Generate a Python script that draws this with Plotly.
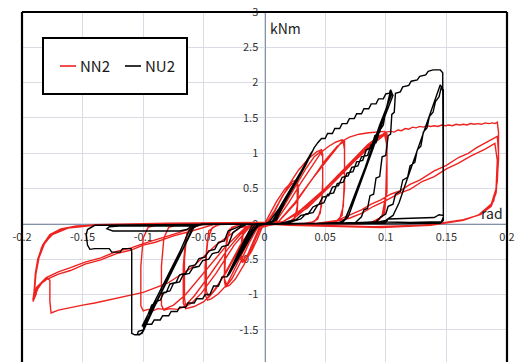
import plotly.graph_objects as go

# ---------------------------------------------------------------------------
# Moment-rotation hysteresis of two joints (rotation in rad, moment in kNm)
# Each list is one stage of the loading history, in the order it was applied.
# ---------------------------------------------------------------------------

# NU2 -------------------------------------------------------------------------
NU2_SMALL = [
    (0.000, 0.00), (0.004, 0.03), (0.012, 0.22), (0.020, 0.45), (0.030, 0.74), (0.039, 1.02),
    (0.037, 0.96), (0.027, 0.62), (0.016, 0.30), (0.008, 0.05), (0.002, 0.00), (-0.006, -0.01),
    (-0.012, -0.15), (-0.020, -0.40), (-0.031, -0.75), (-0.029, -0.71), (-0.020, -0.45),
    (-0.012, -0.20), (-0.006, -0.03), (0.002, 0.00), (0.006, 0.03), (0.015, 0.28), (0.024, 0.55),
    (0.032, 0.78), (0.038, 0.98), (0.036, 0.93), (0.026, 0.60), (0.018, 0.35), (0.010, 0.06),
    (0.003, 0.00), (-0.008, -0.01), (-0.014, -0.18), (-0.022, -0.45), (-0.030, -0.72),
    (-0.028, -0.68), (-0.018, -0.38), (-0.010, -0.12), (-0.004, -0.01), (0.004, 0.00),
    (0.008, 0.04), (0.017, 0.30), (0.026, 0.58), (0.034, 0.83), (0.039, 1.00),
]
NU2_ENV1 = [
    (0.041, 1.08), (0.044, 1.15), (0.047, 1.21), (0.050, 1.21), (0.052, 1.28), (0.056, 1.28),
    (0.058, 1.35), (0.062, 1.35), (0.064, 1.42), (0.068, 1.42), (0.070, 1.49), (0.074, 1.49),
    (0.076, 1.56), (0.080, 1.56), (0.082, 1.63), (0.086, 1.63), (0.088, 1.70), (0.092, 1.70),
    (0.094, 1.77), (0.098, 1.77), (0.100, 1.84), (0.103, 1.85), (0.104, 1.90), (0.105, 1.86),
    (0.100, 1.60), (0.090, 1.10), (0.080, 0.62), (0.070, 0.20), (0.066, 0.05), (0.060, 0.01),
    (0.040, 0.00), (0.000, 0.00), (-0.010, -0.01), (-0.020, -0.35), (-0.031, -0.75),
    (-0.035, -0.75), (-0.038, -0.88), (-0.042, -0.88), (-0.045, -1.00), (-0.049, -1.00),
    (-0.051, -1.06), (-0.056, -1.06), (-0.058, -1.12), (-0.063, -1.12), (-0.065, -1.18),
    (-0.070, -1.18), (-0.072, -1.24), (-0.077, -1.24), (-0.079, -1.30), (-0.084, -1.30),
    (-0.086, -1.36), (-0.091, -1.36), (-0.093, -1.42), (-0.098, -1.42), (-0.100, -1.50),
    (-0.104, -1.52), (-0.105, -1.57), (-0.101, -1.55), (-0.099, -1.45), (-0.080, -0.80),
    (-0.065, -0.28), (-0.058, -0.04), (-0.052, 0.00), (0.000, 0.00), (0.012, 0.00),
]
NU2_RELOAD_A = [
    (0.020, 0.04), (0.026, 0.06), (0.030, 0.12), (0.036, 0.14), (0.040, 0.24), (0.045, 0.28),
    (0.048, 0.38), (0.053, 0.40), (0.056, 0.52), (0.061, 0.54), (0.064, 0.66), (0.069, 0.68),
    (0.072, 0.80), (0.077, 0.82), (0.080, 0.95), (0.085, 0.97), (0.088, 1.12), (0.092, 1.15),
    (0.095, 1.32), (0.098, 1.40), (0.100, 1.60), (0.103, 1.80), (0.104, 1.89), (0.105, 1.84),
    (0.095, 1.40), (0.083, 0.80), (0.072, 0.30), (0.067, 0.08), (0.062, 0.01), (0.030, 0.00),
    (0.000, 0.00), (-0.015, -0.01), (-0.020, -0.05), (-0.026, -0.12), (-0.030, -0.30),
    (-0.035, -0.32), (-0.038, -0.40), (-0.043, -0.42), (-0.046, -0.50), (-0.051, -0.52),
    (-0.054, -0.60), (-0.059, -0.62), (-0.062, -0.70), (-0.067, -0.72), (-0.070, -0.82),
    (-0.075, -0.84), (-0.078, -0.95), (-0.083, -0.97), (-0.086, -1.08), (-0.090, -1.10),
    (-0.093, -1.22), (-0.096, -1.28), (-0.099, -1.40), (-0.100, -1.47), (-0.098, -1.40),
    (-0.082, -0.85), (-0.068, -0.38), (-0.060, -0.08), (-0.055, -0.01), (-0.040, 0.00),
    (0.000, 0.00), (0.016, 0.00),
]
NU2_RELOAD_B = [
    (0.024, 0.04), (0.030, 0.07), (0.034, 0.14), (0.040, 0.16), (0.044, 0.27), (0.049, 0.30),
    (0.052, 0.42), (0.057, 0.44), (0.060, 0.57), (0.065, 0.59), (0.068, 0.72), (0.073, 0.74),
    (0.076, 0.88), (0.081, 0.90), (0.084, 1.05), (0.088, 1.08), (0.091, 1.25), (0.095, 1.30),
    (0.098, 1.50), (0.101, 1.65), (0.103, 1.82), (0.104, 1.88), (0.106, 1.82), (0.097, 1.42),
    (0.085, 0.85), (0.074, 0.32), (0.069, 0.10), (0.064, 0.02), (0.030, 0.00), (0.000, 0.00),
    (-0.018, -0.01), (-0.024, -0.06), (-0.030, -0.10), (-0.033, -0.24), (-0.038, -0.26),
    (-0.041, -0.36), (-0.046, -0.38), (-0.049, -0.47), (-0.054, -0.49), (-0.057, -0.58),
    (-0.062, -0.60), (-0.065, -0.70), (-0.070, -0.72), (-0.073, -0.83), (-0.078, -0.85),
    (-0.081, -0.97), (-0.086, -0.99), (-0.089, -1.12), (-0.093, -1.15), (-0.096, -1.28),
    (-0.099, -1.38), (-0.101, -1.45), (-0.099, -1.38), (-0.084, -0.88), (-0.070, -0.40),
    (-0.062, -0.09), (-0.057, -0.01), (-0.040, 0.00), (0.000, 0.00), (0.050, 0.00),
]
NU2_ENV2 = [
    (0.060, 0.01), (0.075, 0.02), (0.080, 0.10), (0.082, 0.20), (0.085, 0.22), (0.087, 0.40),
    (0.090, 0.42), (0.092, 0.65), (0.095, 0.67), (0.097, 0.95), (0.100, 0.97), (0.102, 1.25),
    (0.104, 1.27), (0.105, 1.55), (0.107, 1.58), (0.108, 1.85), (0.112, 1.87), (0.114, 1.94),
    (0.119, 1.96), (0.121, 2.02), (0.126, 2.04), (0.128, 2.09), (0.133, 2.11), (0.135, 2.16),
    (0.139, 2.18), (0.145, 2.18), (0.147, 2.14), (0.147, 2.02), (0.1475, 1.00), (0.1475, 0.12),
    (0.144, 0.13), (0.140, 0.09), (0.102, 0.07), (0.100, 0.02), (0.060, 0.01), (0.000, 0.00),
    (-0.100, -0.01), (-0.140, -0.02), (-0.146, -0.08), (-0.147, -0.15), (-0.146, -0.30),
    (-0.144, -0.36), (-0.140, -0.35), (-0.128, -0.35), (-0.126, -0.40), (-0.119, -0.40),
    (-0.117, -0.35), (-0.110, -0.35), (-0.1095, -0.40), (-0.1095, -1.55), (-0.107, -1.57),
    (-0.103, -1.57), (-0.100, -1.52), (-0.098, -1.44), (-0.080, -0.78), (-0.065, -0.27),
    (-0.058, -0.04), (-0.050, 0.00), (-0.060, -0.03), (-0.064, -0.08), (-0.070, -0.10),
    (-0.125, -0.10), (-0.130, -0.07), (-0.128, -0.04), (-0.120, -0.03), (-0.060, -0.03),
    (-0.050, -0.01), (0.000, 0.00), (0.050, 0.00), (0.095, 0.03), (0.100, 0.05), (0.106, 0.12),
    (0.111, 0.30), (0.116, 0.55), (0.123, 0.90), (0.130, 1.25), (0.138, 1.62), (0.145, 1.97),
    (0.1475, 1.90), (0.1475, 0.10), (0.146, 0.03), (0.120, 0.02), (0.092, 0.03), (0.096, 0.10),
    (0.100, 0.14), (0.102, 0.25), (0.106, 0.28), (0.108, 0.42), (0.112, 0.46), (0.114, 0.62),
    (0.118, 0.66), (0.120, 0.82), (0.124, 0.87), (0.126, 1.05), (0.129, 1.10), (0.131, 1.30),
    (0.134, 1.36), (0.136, 1.52), (0.139, 1.58), (0.141, 1.73), (0.144, 1.80), (0.146, 1.95),
    (0.1475, 1.85), (0.1475, 0.05), (0.145, 0.01), (0.100, 0.00), (0.000, 0.00),
]

# NN2 -------------------------------------------------------------------------
NN2_SMALL = [
    (0.000, 0.00), (0.004, 0.12), (0.010, 0.32), (0.017, 0.50), (0.023, 0.60), (0.026, 0.62),
    (0.027, 0.55), (0.027, 0.25), (0.025, 0.07), (0.020, 0.01), (0.008, 0.00), (-0.002, -0.05),
    (-0.006, -0.22), (-0.011, -0.40), (-0.016, -0.52), (-0.018, -0.54), (-0.019, -0.45),
    (-0.018, -0.18), (-0.015, -0.04), (-0.008, 0.00), (0.002, 0.02), (0.008, 0.18), (0.015, 0.40),
    (0.022, 0.56), (0.027, 0.60), (0.028, 0.50), (0.027, 0.18), (0.023, 0.03), (0.010, 0.00),
    (-0.004, -0.04), (-0.009, -0.24), (-0.014, -0.44), (-0.019, -0.54), (-0.020, -0.40),
    (-0.018, -0.12), (-0.012, -0.02), (0.000, 0.00),
]
NN2_GROUP1 = [
    (0.005, 0.06), (0.012, 0.30), (0.020, 0.55), (0.028, 0.76), (0.036, 0.92), (0.043, 1.02),
    (0.047, 1.05), (0.048, 0.98), (0.048, 0.60), (0.047, 0.25), (0.044, 0.07), (0.038, 0.01),
    (0.020, 0.00), (0.000, 0.00), (-0.004, -0.08), (-0.010, -0.32), (-0.017, -0.58),
    (-0.024, -0.78), (-0.029, -0.87), (-0.032, -0.89), (-0.033, -0.82), (-0.033, -0.50),
    (-0.031, -0.20), (-0.027, -0.05), (-0.018, 0.00), (0.000, 0.00), (0.008, 0.05),
    (0.016, 0.25), (0.025, 0.52), (0.034, 0.78), (0.041, 0.95), (0.046, 1.02), (0.048, 0.95),
    (0.048, 0.50), (0.046, 0.15), (0.041, 0.03), (0.030, 0.00), (0.000, 0.00), (-0.006, -0.06),
    (-0.013, -0.28), (-0.020, -0.55), (-0.027, -0.78), (-0.031, -0.87), (-0.033, -0.78),
    (-0.032, -0.35), (-0.029, -0.08), (-0.020, 0.00), (0.000, 0.00),
]
NN2_GROUP2 = [
    (0.010, 0.05), (0.020, 0.30), (0.030, 0.58), (0.040, 0.85), (0.047, 1.02), (0.053, 1.10),
    (0.059, 1.16), (0.064, 1.19), (0.066, 1.17), (0.066, 0.70), (0.065, 0.25), (0.062, 0.07),
    (0.056, 0.01), (0.040, 0.00), (0.000, 0.00), (-0.008, -0.06), (-0.016, -0.34),
    (-0.024, -0.62), (-0.031, -0.86), (-0.038, -0.99), (-0.044, -1.06), (-0.047, -1.08),
    (-0.049, -1.00), (-0.049, -0.60), (-0.047, -0.22), (-0.043, -0.05), (-0.035, 0.00),
    (0.000, 0.00), (0.012, 0.04), (0.025, 0.28), (0.038, 0.60), (0.050, 0.90), (0.060, 1.10),
    (0.065, 1.16), (0.066, 1.05), (0.066, 0.50), (0.064, 0.12), (0.058, 0.02), (0.040, 0.00),
    (0.000, 0.00), (-0.010, -0.05), (-0.020, -0.30), (-0.030, -0.62), (-0.040, -0.92),
    (-0.046, -1.04), (-0.048, -0.95), (-0.048, -0.45), (-0.046, -0.10), (-0.038, 0.00),
    (0.000, 0.00),
]
NN2_GROUP3 = [
    (0.012, 0.04), (0.025, 0.30), (0.040, 0.65), (0.055, 0.98), (0.064, 1.17), (0.070, 1.23),
    (0.078, 1.27), (0.086, 1.29), (0.094, 1.30), (0.099, 1.31), (0.101, 1.28), (0.101, 0.90),
    (0.100, 0.40), (0.097, 0.12), (0.092, 0.03), (0.080, 0.00), (0.000, 0.00), (-0.010, -0.05),
    (-0.020, -0.33), (-0.032, -0.70), (-0.042, -0.95), (-0.050, -1.10), (-0.058, -1.17),
    (-0.065, -1.20), (-0.067, -1.12), (-0.067, -0.60), (-0.065, -0.20), (-0.061, -0.05),
    (-0.050, 0.00), (0.000, 0.00), (0.015, 0.03), (0.030, 0.20), (0.050, 0.50), (0.070, 0.85),
    (0.085, 1.12), (0.095, 1.25), (0.100, 1.28), (0.101, 1.10), (0.101, 0.55), (0.099, 0.15),
    (0.093, 0.03), (0.075, 0.00), (0.000, 0.00), (-0.012, -0.04), (-0.025, -0.30),
    (-0.040, -0.70), (-0.052, -0.98), (-0.060, -1.12), (-0.065, -1.17), (-0.066, -1.05),
    (-0.066, -0.50), (-0.064, -0.12), (-0.056, -0.01), (0.000, 0.00),
]
NN2_GROUP4 = [
    (0.015, 0.03), (0.035, 0.25), (0.055, 0.58), (0.075, 0.92), (0.090, 1.16), (0.099, 1.27),
    (0.101, 1.15), (0.101, 0.50), (0.098, 0.12), (0.090, 0.02), (0.070, 0.00), (0.000, 0.00),
    (-0.015, -0.05), (-0.030, -0.35), (-0.045, -0.72), (-0.058, -1.02), (-0.066, -1.17),
    (-0.072, -1.21), (-0.078, -1.20), (-0.083, -1.22), (-0.085, -1.15), (-0.085, -0.60),
    (-0.083, -0.20), (-0.079, -0.05), (-0.068, 0.00), (0.000, 0.00), (0.015, 0.03),
    (0.035, 0.22), (0.055, 0.55), (0.075, 0.90), (0.090, 1.14), (0.099, 1.26), (0.101, 1.12),
    (0.101, 0.45), (0.097, 0.10), (0.088, 0.02), (0.060, 0.00), (0.000, 0.00), (-0.015, -0.04),
    (-0.032, -0.32), (-0.050, -0.70), (-0.065, -1.00), (-0.075, -1.15), (-0.083, -1.21),
    (-0.088, -1.20), (-0.092, -1.23), (-0.096, -1.21), (-0.100, -1.23), (-0.102, -1.16),
    (-0.102, -0.60), (-0.100, -0.20), (-0.096, -0.05), (-0.085, 0.00), (0.000, 0.01),
]
NN2_BIG_POS = [
    (0.020, 0.02), (0.040, 0.30), (0.060, 0.68), (0.080, 1.02), (0.092, 1.20), (0.100, 1.30),
    (0.104, 1.31), (0.107, 1.30), (0.110, 1.33), (0.113, 1.32), (0.116, 1.35), (0.119, 1.34),
    (0.122, 1.37), (0.125, 1.36), (0.128, 1.38), (0.131, 1.37), (0.134, 1.39), (0.137, 1.38),
    (0.140, 1.39), (0.143, 1.38), (0.146, 1.40), (0.149, 1.39), (0.152, 1.40), (0.155, 1.39),
    (0.158, 1.41), (0.161, 1.40), (0.164, 1.41), (0.167, 1.40), (0.170, 1.42), (0.173, 1.41),
    (0.176, 1.42), (0.179, 1.41), (0.182, 1.43), (0.185, 1.42), (0.188, 1.43), (0.190, 1.42),
    (0.192, 1.44), (0.193, 1.30), (0.193, 0.90), (0.192, 0.67), (0.191, 0.44), (0.187, 0.25),
    (0.178, 0.13), (0.164, 0.06), (0.137, -0.01), (0.096, -0.05), (0.062, -0.04),
    (0.020, -0.02), (0.000, 0.00),
]
NN2_RELOAD_POS = [
    (0.040, 0.00), (0.060, 0.05), (0.070, 0.13), (0.080, 0.20), (0.088, 0.28), (0.096, 0.34),
    (0.104, 0.42), (0.112, 0.47), (0.120, 0.56), (0.128, 0.62), (0.140, 0.75), (0.150, 0.83),
    (0.160, 0.94), (0.168, 1.00), (0.175, 1.08), (0.185, 1.17), (0.192, 1.24), (0.193, 1.00),
    (0.192, 0.60), (0.189, 0.32), (0.180, 0.15), (0.164, 0.05), (0.137, -0.02), (0.096, -0.05),
    (0.050, -0.03), (0.000, 0.00), (0.050, 0.00), (0.070, 0.08), (0.080, 0.15), (0.090, 0.25),
    (0.100, 0.33), (0.112, 0.44), (0.120, 0.49), (0.130, 0.60), (0.140, 0.67), (0.150, 0.78),
    (0.160, 0.86), (0.170, 0.96), (0.182, 1.06), (0.190, 1.14), (0.192, 0.90), (0.191, 0.50),
    (0.187, 0.28), (0.176, 0.12), (0.160, 0.04), (0.130, -0.02), (0.090, -0.04), (0.000, 0.00),
]
NN2_BIG_NEG = [
    (-0.020, -0.05), (-0.040, -0.30), (-0.060, -0.62), (-0.080, -0.84), (-0.100, -0.97),
    (-0.110, -1.01), (-0.120, -1.04), (-0.130, -1.09), (-0.140, -1.12), (-0.150, -1.15),
    (-0.160, -1.19), (-0.170, -1.22), (-0.176, -1.26), (-0.177, -1.10), (-0.177, -0.80),
    (-0.179, -0.77), (-0.183, -0.82), (-0.187, -0.92), (-0.190, -1.05), (-0.191, -1.10),
    (-0.189, -1.02), (-0.190, -1.08), (-0.188, -0.98), (-0.191, -1.08), (-0.190, -0.95),
    (-0.189, -0.70), (-0.187, -0.50), (-0.183, -0.30), (-0.177, -0.15), (-0.168, -0.07),
    (-0.155, -0.03), (-0.130, -0.01), (-0.080, 0.00), (0.000, 0.01), (-0.040, 0.00),
    (-0.060, -0.10), (-0.075, -0.17), (-0.090, -0.26), (-0.100, -0.30), (-0.110, -0.37),
    (-0.122, -0.42), (-0.135, -0.51), (-0.148, -0.57), (-0.160, -0.66), (-0.170, -0.71),
    (-0.180, -0.79), (-0.187, -0.88), (-0.190, -1.05), (-0.189, -0.75), (-0.186, -0.48),
    (-0.181, -0.26), (-0.173, -0.12), (-0.160, -0.05), (-0.140, -0.01), (-0.080, 0.01),
    (0.000, 0.02), (-0.050, 0.00), (-0.070, -0.12), (-0.090, -0.22), (-0.100, -0.28),
    (-0.110, -0.34), (-0.122, -0.39), (-0.135, -0.48), (-0.148, -0.54), (-0.160, -0.62),
    (-0.170, -0.68), (-0.180, -0.76), (-0.188, -0.90), (-0.190, -1.02), (-0.188, -0.60),
    (-0.184, -0.34), (-0.176, -0.16), (-0.162, -0.06), (-0.140, -0.02), (-0.080, 0.00),
    (0.000, 0.01),
]

NU2_STAGES = [NU2_SMALL, NU2_ENV1, NU2_RELOAD_A, NU2_RELOAD_B, NU2_ENV2]
NN2_STAGES = [NN2_SMALL, NN2_GROUP1, NN2_GROUP2, NN2_GROUP3, NN2_GROUP4,
              NN2_BIG_POS, NN2_RELOAD_POS, NN2_BIG_NEG]

X_TICKS = [-0.2, -0.15, -0.1, -0.05, 0, 0.05, 0.1, 0.15, 0.2]
X_TICK_TEXT = ["-0.2", "-0.15", "-0.1", "-0.05", "0", "0.05", "0.1", "0.15", "0.2"]
Y_TICKS = [-1.5, -1, -0.5, 0, 0.5, 1, 1.5, 2, 2.5, 3]
Y_TICK_TEXT = ["-1.5", "-1", "-0.5", "0", "0.5", "1", "1.5", "2", "2.5", "3"]

RED = "#ee2320"
BLACK = "#000000"
FONT = "Noto Sans CJK JP"


def history(stages):
    xs, ys = [], []
    for stage in stages:
        for x, y in stage:
            xs.append(x)
            ys.append(y)
    return xs, ys


fig = go.Figure()
for name, stages, color in (("NN2", NN2_STAGES, RED), ("NU2", NU2_STAGES, BLACK)):
    xs, ys = history(stages)
    fig.add_trace(go.Scatter(x=xs, y=ys, mode="lines", name=name,
                             line=dict(color=color, width=1.4), showlegend=False))

Y_MIN, Y_MAX = -1.955, 3.0
x_axis_pos = (0 - Y_MIN) / (Y_MAX - Y_MIN)

fig.update_layout(
    width=516, height=362,
    margin=dict(l=22, r=9, t=12, b=0),
    paper_bgcolor="white", plot_bgcolor="white",
    font=dict(family=FONT, color="#333333", size=11),
    xaxis=dict(range=[-0.2, 0.2], tickvals=X_TICKS, ticktext=X_TICK_TEXT,
               showgrid=True, gridcolor="#d9dce5", gridwidth=1, zeroline=False,
               anchor="free", position=x_axis_pos, showline=True, linecolor="#8593a8",
               linewidth=1, ticks="", ticklabelstandoff=3, layer="below traces",
               tickfont=dict(family=FONT, size=11, color="#333333")),
    yaxis=dict(range=[Y_MIN, Y_MAX], tickvals=Y_TICKS, ticktext=Y_TICK_TEXT,
               showgrid=True, gridcolor="#d9dce5", gridwidth=1, zeroline=False,
               anchor="free", position=0.5, showline=True, linecolor="#8593a8",
               linewidth=1, ticks="", ticklabelstandoff=4, layer="below traces",
               tickfont=dict(family=FONT, size=11, color="#333333")),
)

# chart frame (left, top, right)
for x0, y0, x1, y1 in ((0, 0, 0, 1), (0, 1, 1, 1), (1, 0, 1, 1)):
    fig.add_shape(type="line", xref="paper", yref="paper", x0=x0, y0=y0, x1=x1, y1=y1,
                  line=dict(color="black", width=2.2), layer="above")


def px_x(p):
    return (p - 22) / 485


def px_y(p):
    return (362 - p) / 350


# legend box with its two entries
fig.add_shape(type="rect", xref="paper", yref="paper",
              x0=px_x(43), x1=px_x(187), y0=px_y(94), y1=px_y(38),
              line=dict(color="black", width=2), fillcolor="white", layer="above")
for (a, b), color, label, tx in (((60, 76), RED, "NN2", 78), ((125, 141), BLACK, "NU2", 143)):
    fig.add_shape(type="line", xref="paper", yref="paper",
                  x0=px_x(a), x1=px_x(b), y0=px_y(66), y1=px_y(66),
                  line=dict(color=color, width=1.6), layer="above")
    fig.add_annotation(xref="paper", yref="paper", x=px_x(tx), y=px_y(66), text=label,
                       showarrow=False, xanchor="left", yanchor="middle",
                       font=dict(family=FONT, size=15, color="#1a1a1a"))

# axis unit labels
fig.add_annotation(xref="paper", yref="paper", x=px_x(268), y=px_y(28), text="kNm",
                   showarrow=False, xanchor="left", yanchor="middle",
                   font=dict(family=FONT, size=14, color="#222222"))
fig.add_annotation(xref="paper", yref="paper", x=px_x(479), y=px_y(213), text="rad",
                   showarrow=False, xanchor="left", yanchor="middle",
                   font=dict(family=FONT, size=14, color="#222222"))

fig.write_html("out.html")
